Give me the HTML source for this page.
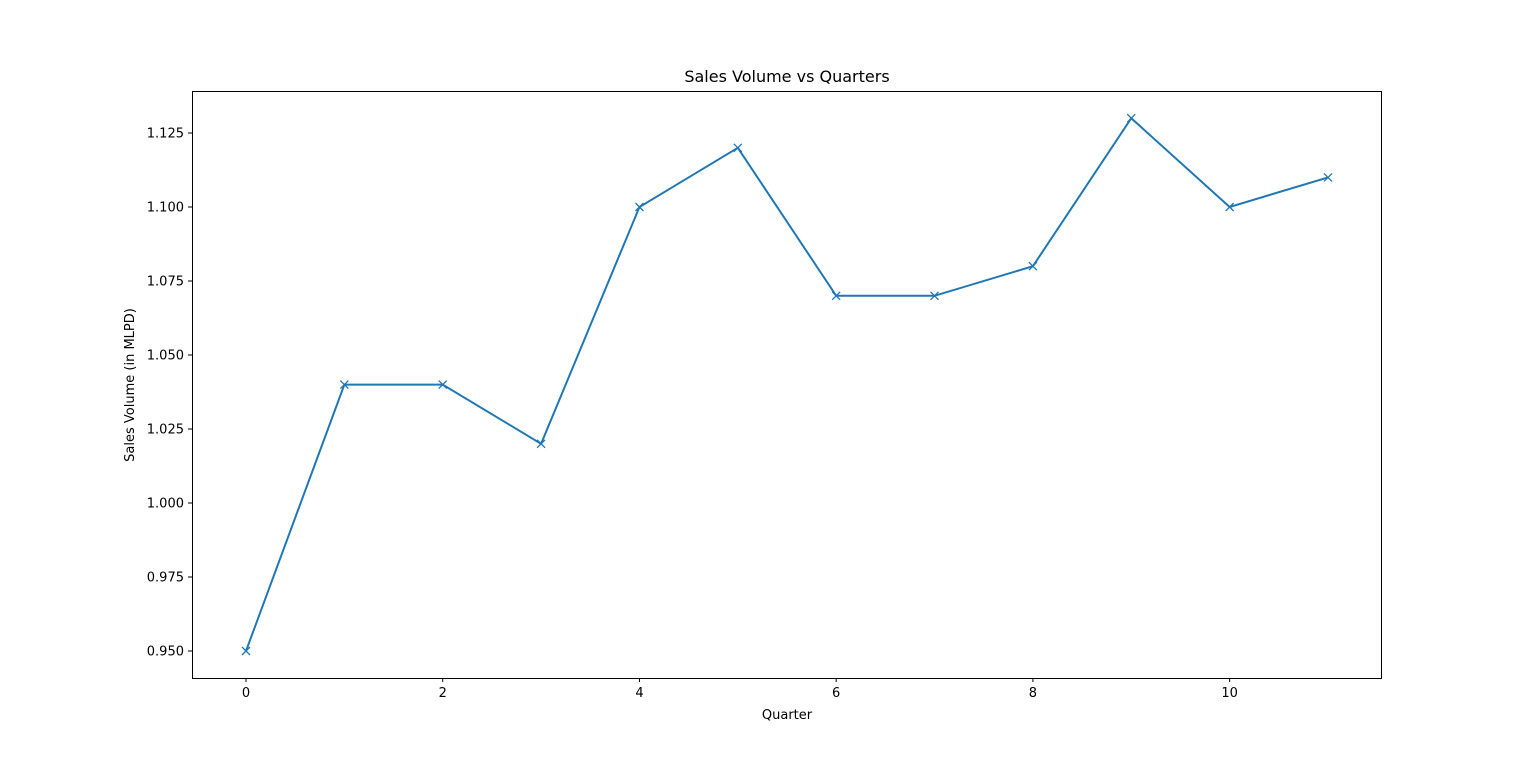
<!DOCTYPE html>
<html><head><meta charset="utf-8"><style>
body{margin:0;background:#fff;}
svg text{font-family:"DejaVu Sans","Liberation Sans",sans-serif;fill:#000;}
</style></head><body>
<svg id="chart" width="1536" height="762" xmlns="http://www.w3.org/2000/svg">
<rect width="1536" height="762" fill="#fff"/>
<text x="787" y="82" font-size="16" text-anchor="middle">Sales Volume vs Quarters</text>
<text x="787" y="719" font-size="13" text-anchor="middle">Quarter</text>
<text transform="translate(134,385) rotate(-90)" font-size="13" text-anchor="middle">Sales Volume (in MLPD)</text>
<g id="xt"></g><g id="yt"></g><g id="series"></g>
<rect x="192.5" y="91.5" width="1189" height="587" fill="none" stroke="#000" stroke-width="1"/>
</svg>
<script>
const quarters=[0,1,2,3,4,5,6,7,8,9,10,11];
const sales=[0.95,1.04,1.04,1.02,1.10,1.12,1.07,1.07,1.08,1.13,1.10,1.11];
const xTicks=[0,2,4,6,8,10];
const yTicks=[0.950,0.975,1.000,1.025,1.050,1.075,1.100,1.125];
const NS="http://www.w3.org/2000/svg";
function xs(v){return 246+v*(1328-246)/11;}
function ys(v){return 651-(v-0.95)*(651-133)/0.175;}
function mk(t,a,p){const e=document.createElementNS(NS,t);for(const k in a)e.setAttribute(k,a[k]);p.appendChild(e);return e;}
const xt=document.getElementById('xt'),yt=document.getElementById('yt'),s=document.getElementById('series');
xTicks.forEach(v=>{const x=xs(v);
const l=mk('line',{x1:x,x2:x,y1:678,y2:682,stroke:'#000'},xt);


const t=mk('text',{x:x,y:697,'font-size':13,'text-anchor':'middle'},xt);t.textContent=v;

});
yTicks.forEach(v=>{const y=ys(v);
const l=mk('line',{x1:188,x2:192,y1:y,y2:y,stroke:'#000'},yt);


const t=mk('text',{x:184,y:y+4.5,'font-size':13,'text-anchor':'end'},yt);t.textContent=v.toFixed(3);

});
const pl=mk('polyline',{points:quarters.map((q,i)=>xs(q)+','+ys(sales[i])).join(' '),fill:'none',stroke:'#1f77b4','stroke-width':2},s);


quarters.forEach((q,i)=>{const x=xs(q),y=ys(sales[i]);
const m=mk('path',{d:`M${x-4},${y-4}L${x+4},${y+4}M${x-4},${y+4}L${x+4},${y-4}`,stroke:'#1f77b4','stroke-width':1.3},s);

});
</script>
</body></html>
